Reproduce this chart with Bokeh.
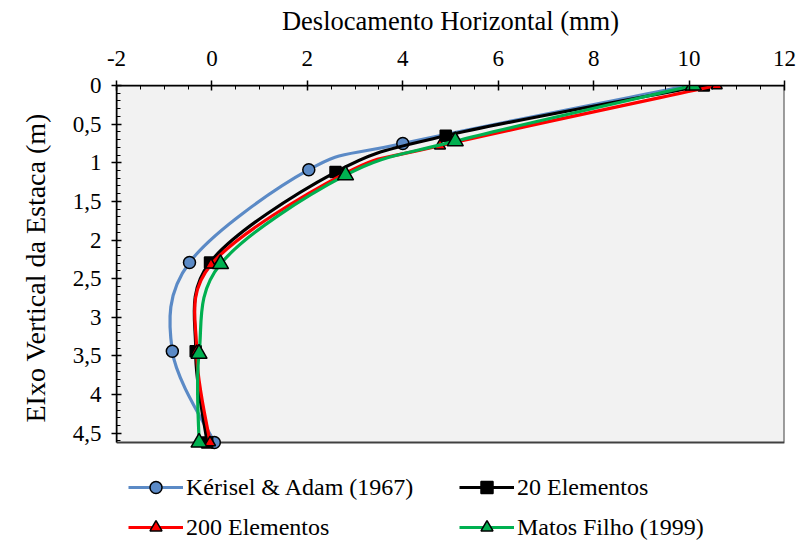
import numpy as np
from bokeh.plotting import figure
from bokeh.models import (Range1d, LinearAxis, FixedTicker, Legend, LegendItem,
                          ColumnDataSource, Title)
from bokeh.embed import file_html
from bokeh.resources import INLINE

# ---- data ----
kerisel_x = [10.0, 4.0, 2.03, -0.47, -0.83, 0.05]
kerisel_y = [0.0, 0.75, 1.09, 2.29, 3.44, 4.62]

el20_x = [10.31, 4.9, 2.59, -0.04, -0.34, -0.1]
el20_y = [0.0, 0.65, 1.12, 2.29, 3.44, 4.62]

el200_x = [10.58, 4.78, 2.78, -0.02, -0.32, -0.04]
el200_y = [0.0, 0.78, 1.14, 2.32, 3.44, 4.62]

matos_x = [10.09, 5.1, 2.8, 0.18, -0.27, -0.27]
matos_y = [0.0, 0.72, 1.16, 2.31, 3.47, 4.62]

series_names = ["Kérisel & Adam (1967)", "20 Elementos", "200 Elementos", "Matos Filho (1999)"]

x_ticks = [-2, 0, 2, 4, 6, 8, 10, 12]
x_tick_labels = ["-2", "0", "2", "4", "6", "8", "10", "12"]
y_ticks = [0, 0.5, 1, 1.5, 2, 2.5, 3, 3.5, 4, 4.5]
y_tick_labels = ["0", "0,5", "1", "1,5", "2", "2,5", "3", "3,5", "4", "4,5"]

x_min, x_max = -2, 12
depth_max = 4.62

FONT = "Liberation Serif"

# layout (pixels)
W, H = 799, 545
TOP, LEFT, RIGHT = 85, 116, 15
AREA_H = 357                      # height of the grey plot area
FRAME_H = H - TOP                 # frame runs to the bottom so the legend is not clipped
y_view_max = depth_max * FRAME_H / AREA_H


def smooth_segments(xs, ys):
    """Excel-like smoothed line: cubic Bezier segments (Catmull-Rom control points)."""
    n = len(xs)
    d = dict(x0=[], y0=[], x1=[], y1=[], cx0=[], cy0=[], cx1=[], cy1=[])
    for i in range(n - 1):
        xp, yp = (xs[i - 1], ys[i - 1]) if i > 0 else (xs[i], ys[i])
        xn, yn = (xs[i + 2], ys[i + 2]) if i + 2 < n else (xs[i + 1], ys[i + 1])
        d["x0"].append(xs[i]); d["y0"].append(ys[i])
        d["x1"].append(xs[i + 1]); d["y1"].append(ys[i + 1])
        d["cx0"].append(xs[i] + (xs[i + 1] - xp) / 6.0)
        d["cy0"].append(ys[i] + (ys[i + 1] - yp) / 6.0)
        d["cx1"].append(xs[i + 1] - (xn - xs[i]) / 6.0)
        d["cy1"].append(ys[i + 1] - (yn - ys[i]) / 6.0)
    return ColumnDataSource(d)


p = figure(width=W, height=H, output_backend="svg", toolbar_location=None,
           x_range=Range1d(x_min, x_max), y_range=Range1d(y_view_max, 0),
           x_axis_location=None, y_axis_location=None,
           min_border_left=LEFT, min_border_right=RIGHT, min_border_top=TOP, min_border_bottom=0)
p.background_fill_color = "white"
p.border_fill_color = "white"
p.outline_line_color = None
p.xgrid.visible = False
p.ygrid.visible = False

# grey plot area with its border
p.quad(left=[x_min], right=[x_max], top=[0], bottom=[depth_max],
       fill_color="#F2F2F2", line_color="#404040", line_width=2)

xaxis = LinearAxis(axis_label="Deslocamento Horizontal (mm)",
                   ticker=FixedTicker(ticks=x_ticks, minor_ticks=list(np.arange(-2, 12.01, 0.5))))
xaxis.major_label_overrides = {t: l for t, l in zip(x_ticks, x_tick_labels)}
yaxis = LinearAxis(bounds=(0, depth_max),
                   ticker=FixedTicker(ticks=y_ticks, minor_ticks=list(np.round(np.arange(0, 4.61, 0.1), 2))))
yaxis.major_label_overrides = {t: l for t, l in zip(y_ticks, y_tick_labels)}

for ax in (xaxis, yaxis):
    ax.axis_line_color = "black"
    ax.axis_line_width = 1.5
    ax.major_tick_line_color = "black"
    ax.major_tick_line_width = 1.5
    ax.minor_tick_line_color = "black"
    ax.minor_tick_line_width = 1
    ax.major_tick_in = 5
    ax.major_tick_out = 5
    ax.minor_tick_in = 4
    ax.minor_tick_out = 0
    ax.major_label_text_font = FONT
    ax.major_label_text_font_size = "23px"
    ax.major_label_text_color = "black"
    ax.axis_label_text_font = FONT
    ax.axis_label_text_font_style = "normal"
    ax.axis_label_text_color = "black"

xaxis.axis_label_text_font_size = "26.5px"
xaxis.major_label_standoff = 15
xaxis.axis_label_standoff = 12
yaxis.major_label_standoff = 10

p.add_layout(xaxis, "above")
p.add_layout(yaxis, "left")

# vertical axis title, centred on the grey plot area
ytitle = Title(text="EIxo Vertical da Estaca (m)", align="left", offset=123,
               vertical_align="top", standoff=34, text_font=FONT, text_font_size="28px",
               text_font_style="normal", text_color="black")
p.add_layout(ytitle, "left")

specs = [
    (kerisel_x, kerisel_y, "#5B8AC6", "circle", 12, "#5B8AC6"),
    (el20_x, el20_y, "black", "square", 11, "black"),
    (el200_x, el200_y, "#FF0000", "triangle", 11, "#FF0000"),
    (matos_x, matos_y, "#00B050", "triangle", 16, "#00B050"),
]

items = []
for (xs, ys, col, marker, size, fill), name in zip(specs, series_names):
    src = smooth_segments(xs, ys)
    b = p.bezier(x0="x0", y0="y0", x1="x1", y1="y1", cx0="cx0", cy0="cy0",
                 cx1="cx1", cy1="cy1", source=src, line_color=col, line_width=3.2)
    s = p.scatter(xs, ys, marker=marker, size=size, fill_color=fill,
                  line_color="black", line_width=1.5)
    items.append(LegendItem(label=name, renderers=[b, s]))

leg_kw = dict(orientation="horizontal", padding=0, margin=0, spacing=18,
              glyph_width=55, glyph_height=30, label_width=255, label_height=30,
              label_standoff=3, label_text_font=FONT, label_text_font_size="24px",
              label_text_color="black", border_line_alpha=0, background_fill_alpha=0)
leg1 = Legend(items=items[:2], location=(12, 43), **leg_kw)
leg2 = Legend(items=items[2:], location=(12, 3), **leg_kw)
p.add_layout(leg1, "center")
p.add_layout(leg2, "center")

open("out.html", "w").write(file_html(p, INLINE))
